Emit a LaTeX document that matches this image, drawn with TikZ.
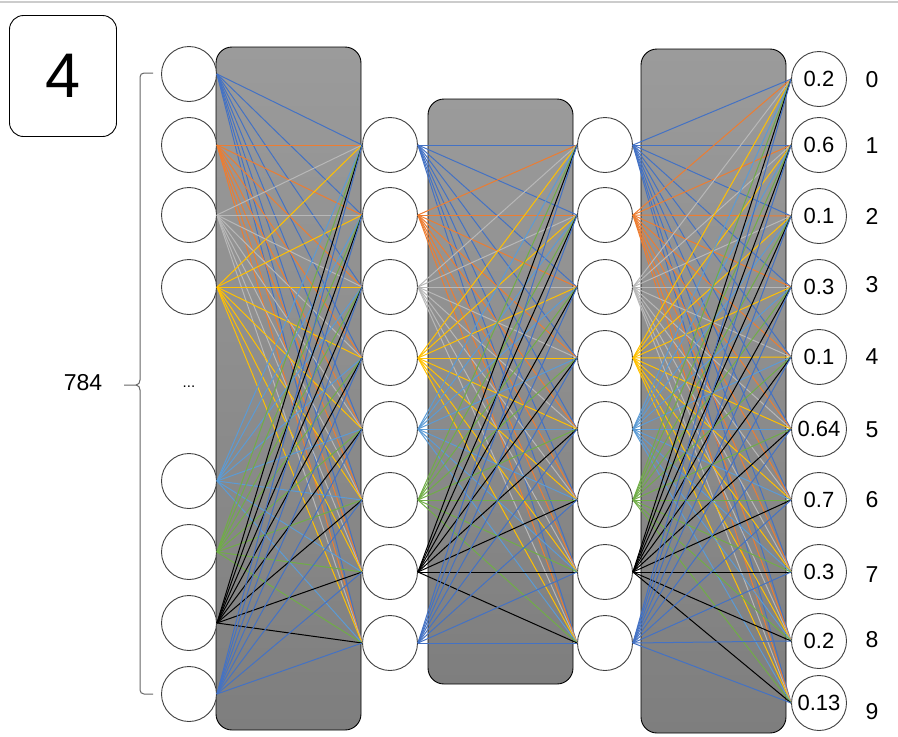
\documentclass[tikz,border=0pt]{standalone}
\usepackage{fontspec}
\setmainfont{Liberation Sans}
\definecolor{cblue}{HTML}{4472C4}
\definecolor{corange}{HTML}{ED7D31}
\definecolor{cgray}{HTML}{B8B8B8}
\definecolor{cgold}{HTML}{FFC000}
\definecolor{cltblue}{HTML}{5B9BD5}
\definecolor{cgreen}{HTML}{70AD47}
\definecolor{boxtop}{HTML}{9B9B9B}
\definecolor{boxbot}{HTML}{7E7E7E}
\tikzset{
  neuron/.style={circle,draw=black!75,fill=white,line width=0.9pt,minimum size=55pt,inner sep=0pt},
  layerbox/.style={draw=black,line width=0.9pt,rounded corners=16pt,top color=boxtop,bottom color=boxbot},
  wire/.style={line width=1pt},
  numtext/.style={font=\fontsize{22}{24}\selectfont},
  classtext/.style={font=\fontsize{23}{25}\selectfont},
}

\begin{document}
\begin{tikzpicture}[x=1pt,y=-1pt]
  \useasboundingbox (0,0) rectangle (898,737);
  \draw[black!20,line width=1.5pt] (0,2) -- (898,2);
  % the digit and the input size
  \node[draw=black,line width=0.9pt,rounded corners=14pt,minimum width=107pt,minimum height=121pt,
        font=\fontsize{63}{65}\selectfont] (digit) at (63,76) {4};
  \node[font=\fontsize{23}{25}\selectfont] (count) at (83,383) {784};
  \draw[black!60,line width=1pt] (153,73) -- (144,73) to[out=180,in=90] (140,77) -- (140,380)
    to[out=-90,in=0] (136,385) -- (124,385);
  \draw[black!60,line width=1pt] (136,385) to[out=0,in=90] (140,390) -- (140,690)
    to[out=-90,in=180] (144,694) -- (153,694);
  % layer boxes
  \shade[layerbox] (216,47) rectangle (361,730);
  \shade[layerbox] (428,99) rectangle (573,684);
  \shade[layerbox] (641,49) rectangle (786,733);
  % input layer
  \node[neuron] (i1) at (189,74) {};
  \node[neuron] (i2) at (189,145) {};
  \node[neuron] (i3) at (189,215) {};
  \node[neuron] (i4) at (189,287) {};
  \node[font=\fontsize{15}{17}\selectfont] (dots) at (189,387) {...};
  \node[neuron] (i5) at (189,481) {};
  \node[neuron] (i6) at (189,552) {};
  \node[neuron] (i7) at (189,623) {};
  \node[neuron] (i8) at (189,694) {};
  % hidden layers
  \foreach \k/\y in {1/145,2/215,3/287,4/358,5/429,6/500,7/572,8/643}{
    \node[neuron] (h\k) at (390,\y) {};
    \node[neuron] (g\k) at (605,\y) {};
  }
  % output layer
  \node[neuron,numtext] (o0) at (819,79) {0.2};
  \node[neuron,numtext] (o1) at (819,145) {0.6};
  \node[neuron,numtext] (o2) at (819,216) {0.1};
  \node[neuron,numtext] (o3) at (819,287) {0.3};
  \node[neuron,numtext] (o4) at (819,357) {0.1};
  \node[neuron,numtext] (o5) at (819,429) {0.64};
  \node[neuron,numtext] (o6) at (819,500) {0.7};
  \node[neuron,numtext] (o7) at (819,572) {0.3};
  \node[neuron,numtext] (o8) at (819,641) {0.2};
  \node[neuron,numtext] (o9) at (819,703) {0.13};
  \foreach \d/\y in {0/80,1/146,2/216,3/285,4/357,5/430,6/500,7/575,8/640,9/712}
    \node[classtext] (l\d) at (872,\y) {\d};
  % weights
  \foreach \s/\c in {1/cblue,2/corange,3/cgray,4/cgold,5/cltblue,6/cgreen,7/black,8/cblue}{
    \foreach \t in {1,...,8}{
      \draw[wire,\c] (i\s.east) -- (h\t.west);
      \draw[wire,\c] (h\s.east) -- (g\t.west);
    }
    \foreach \t in {0,...,9}
      \draw[wire,\c] (g\s.east) -- (o\t.west);
  }
\end{tikzpicture}
\end{document}
